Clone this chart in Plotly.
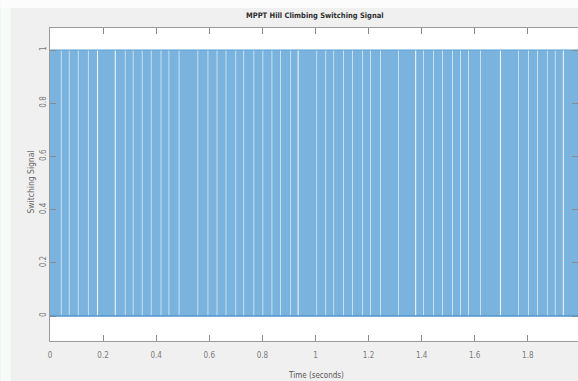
import plotly.graph_objects as go

# Switching signal of the hill-climbing MPPT controller (0/1 duty pulses)
t_span = [0.0, 2.0]
signal_levels = [0, 1]

# instants where the switch stays off for longer than one PWM period
off_times = [0.041, 0.071, 0.105, 0.143, 0.177, 0.244, 0.282, 0.312, 0.346, 0.380,
             0.417, 0.447, 0.485, 0.556, 0.594, 0.628, 0.662, 0.699, 0.729, 0.767,
             0.801, 0.835, 0.868, 0.906, 0.933, 1.004, 1.038, 1.068, 1.105, 1.139,
             1.177, 1.207, 1.244, 1.312, 1.376, 1.406, 1.444, 1.477, 1.515, 1.545,
             1.575, 1.620, 1.695, 1.763, 1.801, 1.835, 1.872, 1.902, 1.932]
# duration of each off interval (seconds)
off_durations = [0.0022, 0.0022, 0.0022, 0.0022, 0.0035, 0.0035, 0.0022, 0.0022, 0.0022, 0.0022,
                 0.0022, 0.0022, 0.0022, 0.0022, 0.0022, 0.0022, 0.0022, 0.0022, 0.0022, 0.0022,
                 0.0022, 0.0022, 0.0022, 0.0022, 0.0035, 0.0022, 0.0022, 0.0022, 0.0022, 0.0022,
                 0.0022, 0.0022, 0.0022, 0.0022, 0.0035, 0.0022, 0.0022, 0.0022, 0.0022, 0.0022,
                 0.0022, 0.0022, 0.0035, 0.0022, 0.0022, 0.0022, 0.0022, 0.0022, 0.0035]

x_ticks = [0, 0.2, 0.4, 0.6, 0.8, 1.0, 1.2, 1.4, 1.6, 1.8, 2.0]
x_tick_labels = ["0", "0.2", "0.4", "0.6", "0.8", "1", "1.2", "1.4", "1.6", "1.8", "2"]
y_ticks = [0, 0.2, 0.4, 0.6, 0.8, 1.0]
y_tick_labels = ["0", "0.2", "0.4", "0.6", "0.8", "1"]

lo, hi = signal_levels
xs, ys = [t_span[0]], [hi]
for t, w in zip(off_times, off_durations):
    xs += [t, t, t + w, t + w]
    ys += [hi, lo, lo, hi]
xs.append(t_span[1])
ys.append(hi)

FILL = "#7ab3dd"
FONT = "Liberation Sans Narrow, DejaVu Sans Condensed, Arial Narrow, Liberation Sans, sans-serif"

fig = go.Figure()
fig.add_trace(go.Scatter(x=xs, y=ys, mode="lines", fill="tozeroy",
                         fillcolor=FILL, line=dict(width=0, color=FILL),
                         hoverinfo="skip", showlegend=False))
# high and low rails of the pulse train
fig.add_trace(go.Scatter(x=t_span, y=[hi, hi], mode="lines",
                         line=dict(width=1, color="#5d9fd3"), showlegend=False))
fig.add_trace(go.Scatter(x=t_span, y=[lo, lo], mode="lines",
                         line=dict(width=1.3, color="#4f94cd"), showlegend=False))

W, H = 578, 381
L, R, T, B = 49.5, 0, 28, 40
pw, ph = W - L - R, H - T - B
px_per_s = 265.7
px_per_unit = 266.0


def px_x(p):
    return (p - L) / pw


def px_y(p):
    return (H - B - p) / ph


axis_common = dict(showgrid=False, zeroline=False, showline=True, mirror="ticks",
                   linecolor="#9a9a9a", linewidth=1, ticks="inside", ticklen=6,
                   tickcolor="#8a8a8a", tickwidth=1,
                   tickfont=dict(family=FONT, size=8, color="#7a7a7a"))

fig.update_xaxes(range=[0, pw / px_per_s], tickvals=x_ticks, ticktext=x_tick_labels,
                 ticklabelstandoff=6, **axis_common)
fig.update_yaxes(range=[-25 / px_per_unit, 1 + 22 / px_per_unit], tickvals=y_ticks,
                 ticktext=y_tick_labels, tickangle=-90, **axis_common)

fig.update_layout(
    width=W, height=H,
    margin=dict(l=L, r=R, t=T, b=B, pad=0),
    paper_bgcolor="#f0f0f0", plot_bgcolor="#ffffff",
    showlegend=False,
    shapes=[
        dict(type="rect", xref="paper", yref="paper", layer="below",
             x0=px_x(0), x1=px_x(10), y0=px_y(H), y1=px_y(0),
             fillcolor="#f7fbf8", line=dict(width=0)),
        dict(type="rect", xref="paper", yref="paper", layer="below",
             x0=px_x(0), x1=px_x(W), y0=px_y(8), y1=px_y(0),
             fillcolor="#fbfcfb", line=dict(width=0)),
    ],
    annotations=[
        dict(text="<b>MPPT Hill Climbing Switching Signal</b>", xref="paper", yref="paper",
             x=px_x(315), y=px_y(15), showarrow=False, xanchor="center", yanchor="middle",
             font=dict(family=FONT, size=7.5, color="#2e2e2e")),
        dict(text="Time (seconds)", xref="paper", yref="paper",
             x=px_x(316), y=px_y(375), showarrow=False, xanchor="center", yanchor="middle",
             font=dict(family=FONT, size=8, color="#555555")),
        dict(text="Switching Signal", xref="paper", yref="paper", textangle=-90,
             x=px_x(30), y=px_y(182), showarrow=False, xanchor="center", yanchor="middle",
             font=dict(family=FONT, size=8.5, color="#666666")),
    ],
)

fig.write_html("out.html")
